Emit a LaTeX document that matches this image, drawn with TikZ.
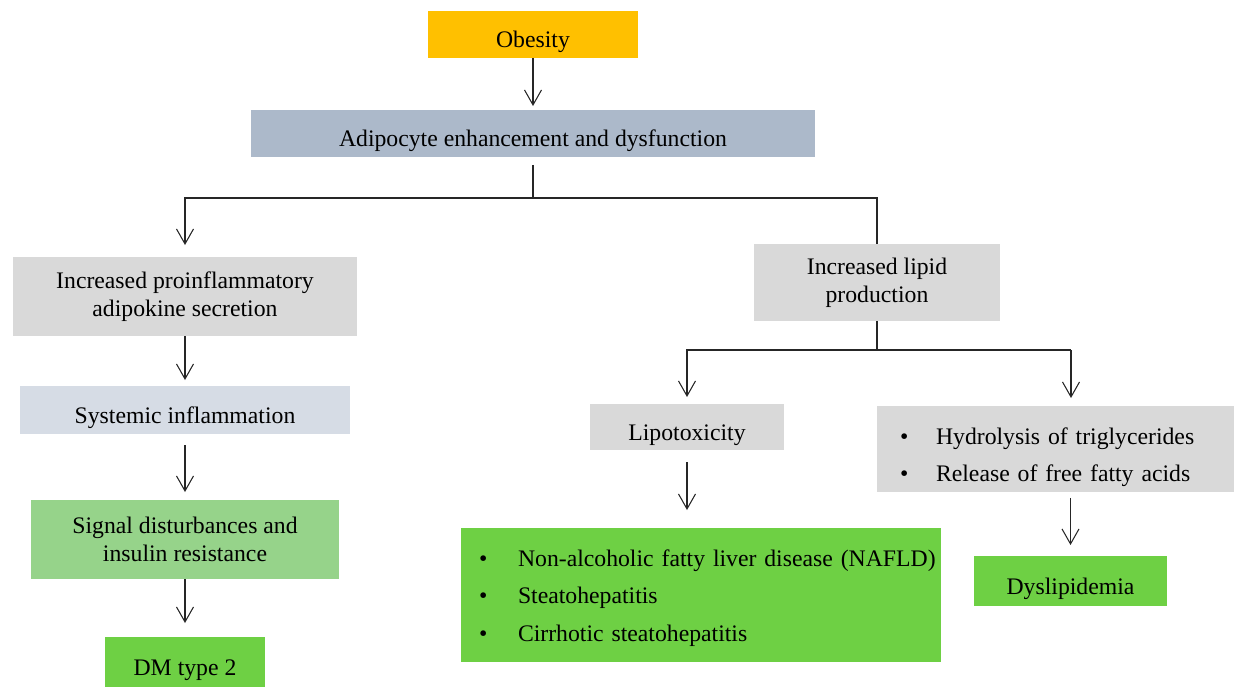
\documentclass[tikz,border=0pt]{standalone}
\usepackage{fontspec}
\setmainfont{Liberation Serif}
\usepackage{xcolor}
\usepackage{tikz}
\usetikzlibrary{arrows.meta}

\definecolor{obesityorange}{HTML}{FFC000}
\definecolor{adipoblue}{HTML}{ACB9CA}
\definecolor{lightgrey}{HTML}{D9D9D9}
\definecolor{paleblue}{HTML}{D6DCE5}
\definecolor{softgreen}{HTML}{96D38A}
\definecolor{brightgreen}{HTML}{6ED044}

\begin{document}
\begin{tikzpicture}[
    x=0.02cm, y=-0.02cm,
    box/.style={
      rectangle, inner sep=0pt, outer sep=0pt,
      align=center, font=\fontsize{13.5}{16}\selectfont
    },
    oneline/.style={box, text height=16pt, text depth=1pt},
    listbox/.style={box, align=left, font=\fontsize{13.5}{21.4}\selectfont},
    arrow/.style={-{Straight Barb[length=0.3cm,width=0.34cm]}, line width=0.6pt, color=black!85},
    line/.style={line width=0.6pt, color=black!85}
  ]
  \useasboundingbox (0,0) rectangle (1234,687);

  % Top of the chain
  \node[oneline, fill=obesityorange, minimum width=4.2cm, minimum height=0.94cm] (obesity) at (533,34.5) {Obesity};
  \node[oneline, fill=adipoblue, minimum width=11.28cm, minimum height=0.94cm] (adipo) at (533,133.5) {Adipocyte enhancement and dysfunction};

  % Left branch (top to bottom)
  \node[box, fill=lightgrey, minimum width=6.9cm, minimum height=1.58cm] (proinf) at (185,296.5) {Increased proinflammatory\\adipokine secretion};
  \node[oneline, fill=paleblue, minimum width=6.6cm, minimum height=0.96cm] (systemic) at (185,410) {Systemic inflammation};
  \node[box, fill=softgreen, minimum width=6.18cm, minimum height=1.58cm] (signal) at (185,539.5) {Signal disturbances and\\insulin resistance};
  \node[oneline, fill=brightgreen, minimum width=3.2cm, minimum height=1.0cm] (dm) at (185,662) {DM type 2};

  % Right branch
  \node[box, fill=lightgrey, minimum width=4.92cm, minimum height=1.54cm] (lipid) at (877,282.5) {Increased lipid\\production};
  \node[oneline, fill=lightgrey, minimum width=3.88cm, minimum height=0.92cm] (lipotox) at (687,427) {Lipotoxicity};
  \node[listbox, fill=brightgreen, inner xsep=0.36cm, text width=8.88cm, minimum height=2.68cm] (nafld) at (701,595) {%
    \mbox{\rule{0pt}{13pt}\makebox[0.78cm][l]{\textbullet}Non-alcoholic fatty liver disease (NAFLD)}\\
    \mbox{\makebox[0.78cm][l]{\textbullet}Steatohepatitis}\\
    \mbox{\makebox[0.78cm][l]{\textbullet}Cirrhotic steatohepatitis}};
  \node[listbox, fill=lightgrey, inner xsep=0.46cm, text width=6.22cm, minimum height=1.72cm] (hydro) at (1055.5,449) {%
    \mbox{\rule{0pt}{19pt}\makebox[0.72cm][l]{\textbullet}Hydrolysis of triglycerides}\\
    \mbox{\makebox[0.72cm][l]{\textbullet}Release of free fatty acids}};
  \node[oneline, fill=brightgreen, minimum width=3.86cm, minimum height=1.0cm] (dyslip) at (1070.5,581) {Dyslipidemia};

  % Branch points
  \coordinate (split1) at (533,198);
  \coordinate (split2) at (877,350);
  \coordinate (split3) at (1071,350);

  % Arrows
  \draw[arrow, shorten >=0.08cm] (obesity) -- (adipo);
  \draw[line, shorten <=0.16cm] (adipo) -- (split1);
  \draw[arrow, shorten >=0.24cm] (split1) -| (proinf);
  \draw[line] (split1) -| (lipid);

  \draw[arrow, shorten >=0.12cm] (proinf) -- (systemic);
  \draw[arrow, shorten <=0.22cm, shorten >=0.16cm] (systemic) -- (signal);
  \draw[arrow, shorten >=0.28cm] (signal) -- (dm);

  \draw[line] (lipid) -- (split2);
  \draw[arrow, shorten >=0.14cm] (split2) -| (lipotox);
  \draw[line] (split2) -- (split3);
  \draw[arrow, shorten >=0.16cm] (split3) -- (split3 |- hydro.north);
  \draw[arrow, shorten <=0.24cm, shorten >=0.36cm] (lipotox.south) -- (lipotox.south |- nafld.north);
  \draw[arrow, shorten <=0.12cm, shorten >=0.22cm] (hydro.south -| dyslip) -- (dyslip);

\end{tikzpicture}
\end{document}
